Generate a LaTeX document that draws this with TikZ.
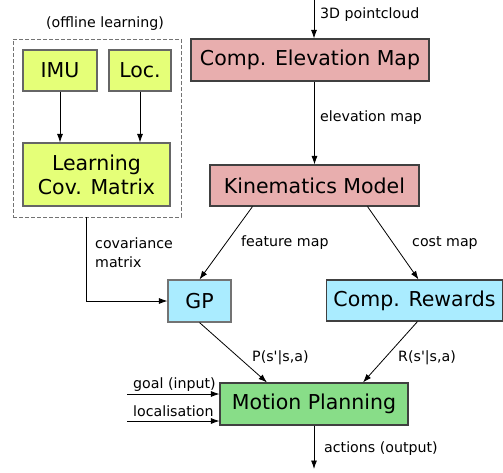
\documentclass[tikz,border=0pt]{standalone}
\usepackage{fontspec}
\setmainfont{DejaVu Sans}[Ligatures=TeXOff]
\usetikzlibrary{arrows.meta}
\definecolor{pinkbox}{RGB}{232,174,174}
\definecolor{limebox}{RGB}{229,255,120}
\definecolor{cyanbox}{RGB}{170,236,255}
\definecolor{greenbox}{RGB}{136,221,136}
\newcommand{\bigtxt}{\fontsize{20.5}{24}\selectfont}
\newcommand{\smalltxt}{\fontsize{14.2}{19}\selectfont}
\tikzset{
  procbox/.style={draw=black!75, line width=1.1pt, inner sep=0pt, font=\bigtxt, align=center},
  lbl/.style={anchor=west, inner sep=0pt, font=\smalltxt, align=left},
  flow/.style={-{Latex[length=8.5pt,width=6pt]}, line width=0.8pt},
}

\begin{document}
\begin{tikzpicture}[x=1pt,y=1pt,yscale=-1,xscale=1]
\useasboundingbox (0,0) rectangle (503,472);

%Offline learning block
\node [draw=black!55, dash pattern={on 4pt off 2pt}, line width=0.9pt, minimum width=168, minimum height=178] (offbox) at (97,128) {};
\node [anchor=south, inner sep=0pt, font=\smalltxt] (offlbl) at (105,31) {(offline learning)};
\node [procbox, fill=limebox, draw=black!60, minimum width=74, minimum height=41] (imu) at (60,70.5) {IMU};
\node [procbox, fill=limebox, draw=black!60, minimum width=62, minimum height=41] (loc) at (140,70.5) {Loc.};
\node [procbox, fill=limebox, draw=black!60, minimum width=147, minimum height=63] (learn) at (96.5,174.5) {Learning\\Cov. Matrix};

%Main chain
\node [procbox, fill=pinkbox, minimum width=238, minimum height=42] (elev) at (310,60) {Comp. Elevation Map};
\node [procbox, fill=pinkbox, minimum width=209, minimum height=41] (kin) at (314.5,185.5) {Kinematics Model};
\node [procbox, fill=cyanbox, draw=black!55, minimum width=63, minimum height=42] (gp) at (199.5,301) {GP};
\node [procbox, fill=cyanbox, minimum width=176, minimum height=41] (rew) at (414.5,300.5) {Comp. Rewards};
\node [procbox, fill=greenbox, minimum width=188, minimum height=42] (plan) at (314,404) {Motion Planning};

%Free ends
\coordinate (pctop) at (314,0);
\coordinate (covtop) at (86,217);
\coordinate (goalin) at (127,394);
\coordinate (locin) at (127,421);
\coordinate (actout) at (314,469);

%Straight Lines
\draw [flow] (imu) -- (imu |- learn.north);
\draw [flow] (loc) -- (loc |- learn.north);
\draw [flow] (pctop) -- (pctop |- elev.north);
\draw [flow] (kin.north |- elev.south) -- (kin.north);
\draw [flow] ([xshift=-62]kin.south) -- (gp.north);
\draw [flow] ([xshift=53]kin.south) -- ([xshift=4]rew.north);
\draw [flow] (covtop) |- (gp.west);
\draw [flow] ([xshift=3]rew.south) -- ([xshift=49]plan.north);
\draw [flow] (gp.south) -- ([xshift=-47]plan.north);
\draw [flow] (goalin) -- (goalin -| plan.west);
\draw [flow] (locin) -- (locin -| plan.west);
\draw [flow] (plan.south) -- (actout);

% Text Node
\node [lbl] (pclbl) at (320,15) {3D pointcloud};
% Text Node
\node [lbl] (elevlbl) at (320,118) {elevation map};
% Text Node
\node [lbl] (featlbl) at (241,243) {feature map};
% Text Node
\node [lbl] (costlbl) at (412,243) {cost map};
% Text Node
\node [lbl] (covlbl) at (95,252.5) {covariance\\matrix};
% Text Node
\node [lbl] (plbl) at (252,358) {P(s'|s,a)};
% Text Node
\node [lbl] (rlbl) at (398,358) {R(s'|s,a)};
% Text Node
\node [lbl] (goallbl) at (133,385) {goal (input)};
% Text Node
\node [lbl] (loclbl) at (133,411) {localisation};
% Text Node
\node [lbl] (actlbl) at (324,449) {actions (output)};

\end{tikzpicture}
\end{document}
